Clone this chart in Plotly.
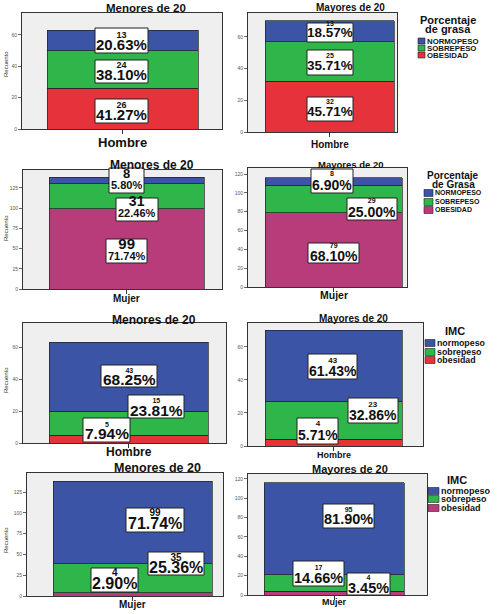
import plotly.graph_objects as go

W, H = 500, 614

# ---------------- data ----------------
grasa_categorias = ["NORMOPESO", "SOBREPESO", "OBESIDAD"]
imc_categorias = ["normopeso", "sobrepeso", "obesidad"]
grupos = ["Menores de 20", "Mayores de 20"]
sexos = ["Hombre", "Mujer"]

# order: normopeso, sobrepeso, obesidad
grasa_hombre_menores = [13, 24, 26]
grasa_hombre_mayores = [13, 25, 32]
grasa_mujer_menores = [8, 31, 99]
grasa_mujer_mayores = [8, 29, 79]
imc_hombre_menores = [43, 15, 5]
imc_hombre_mayores = [43, 23, 4]
imc_mujer_menores = [99, 35, 4]
imc_mujer_mayores = [95, 17, 4]

# ---------------- styles ----------------
BLUE = "#3b54a5"
GREEN = "#2fb64b"
RED = "#e6323a"
MAGENTA = "#b93c7a"
cols_red = [BLUE, GREEN, RED]
cols_mag = [BLUE, GREEN, MAGENTA]
FONT = "Liberation Sans, Arial, sans-serif"

panels = [
    (grupos[0], sexos[0], grasa_hombre_menores, cols_red),
    (grupos[1], sexos[0], grasa_hombre_mayores, cols_red),
    (grupos[0], sexos[1], grasa_mujer_menores, cols_mag),
    (grupos[1], sexos[1], grasa_mujer_mayores, cols_mag),
    (grupos[0], sexos[0], imc_hombre_menores, cols_red),
    (grupos[1], sexos[0], imc_hombre_mayores, cols_red),
    (grupos[0], sexos[1], imc_mujer_menores, cols_mag),
    (grupos[1], sexos[1], imc_mujer_mayores, cols_mag),
]

# layout geometry in pixels
frames = [(22, 222, 13, 129), (248, 397, 13, 132),
          (23, 222, 170, 289), (248, 407, 168, 287),
          (23, 226, 323, 443), (248, 423, 323, 446),
          (27, 223, 473, 596), (248, 427, 474, 595)]
bars_px = [(47, 198), (265, 394), (49, 204), (265, 402),
           (49, 208), (265, 402), (53, 212), (264, 404)]
ymax = [74, 75, 147, 126.5, 75, 74.5, 148, 125]
dticks = [20, 20, 25, 20, 20, 20, 25, 20]
title_pos = [(146, 8, 11.5), (350, 7, 10), (152, 165, 12), (350, 164, 9.5),
             (154, 320, 12), (353, 318, 10), (157, 468, 12.5), (350, 469, 11)]
xlab_pos = [(142, 13), (144, 10), (298, 10), (295, 10.5), (452, 12), (455, 9), (604, 10), (602, 9)]
ytitle_pos = [(6, 64), None, (6, 228), None, (6, 380), None, (6, 540), None]

# label boxes: (x0, x1, y0, y1, count_y, pct_y, count_size, pct_size)
boxes = [
    [(95, 148, 28, 53, 37, 47, 9, 15), (95, 148, 60, 83, 67, 77, 9, 15), (95, 148, 99, 123, 107, 117, 9, 15)],
    [(307, 353, 23, 42, 26, 35, 7, 13.5), (307, 353, 50, 75, 58, 68, 7, 13.5), (307, 353, 97, 121, 104, 114, 7, 13.5)],
    [(109, 144, 168, 193, 175, 187, 13, 11), (116, 158, 198, 221, 203, 215, 14, 11), (106, 147, 239, 263, 246, 258, 15, 11)],
    [(311, 353, 169, 193, 176, 187, 7, 14), (347, 397, 198, 220, 203, 214, 7, 14), (308, 359, 243, 263, 248, 258, 7, 14)],
    [(101, 157, 365, 387, 373, 382, 7, 15.5), (128, 184, 395, 418, 403, 413, 7, 15.5), (83, 130, 418, 442, 427, 436, 7, 15.5)],
    [(308, 357, 354, 379, 362, 373, 8, 14), (348, 398, 398, 423, 406, 417, 8, 14), (297, 338, 418, 444, 425, 437, 8, 14)],
    [(126, 184, 508, 532, 514, 525, 10, 16), (148, 204, 552, 575, 559, 569, 10, 16), (91, 138, 568, 592, 574, 585, 10, 16)],
    [(323, 374, 504, 528, 512, 521, 7, 14.5), (293, 344, 561, 586, 570, 580, 7, 14.5), (347, 390, 573, 595, 580, 590, 7, 14.5)],
]

# legends: (title lines, title_x, title_ys, title_size, sq_x0, sq_x1, sq_h, text_x, row_ys, text_size, categories, colors)
legends = [
    (["Porcentaje", "de grasa"], 448, [20, 29], 11, 418, 425, 6, 426, [41, 48, 55], 7.8, grasa_categorias, cols_red),
    (["Porcentaje", "de Grasa"], 453, [175, 184], 10, 424, 433, 7, 434, [193, 202, 210], 7, grasa_categorias, cols_mag),
    (["IMC"], 455, [331], 11, 425, 435, 7, 436, [343, 352, 360], 8.8, imc_categorias, cols_red),
    (["IMC"], 457, [480], 11, 428, 439, 7, 440, [491, 499, 508], 9, imc_categorias, cols_mag),
]

ASC, DESC, CAPMID = 0.905, 0.212, 0.36
LABEL_SHIFT = -2.2


def px(x):
    return x / W


def py(y):
    return 1 - y / H


fig = go.Figure()
layout = dict(width=W, height=H, margin=dict(l=0, r=0, t=0, b=0, autoexpand=False),
              paper_bgcolor="white", plot_bgcolor="#efefef", barmode="stack",
              showlegend=False, font=dict(family=FONT, color="#111"), template="none")
annotations = []
shapes = []

for i, (titulo, cat, vals, cols) in enumerate(panels):
    ax = "" if i == 0 else str(i + 1)
    fx0, fx1, fy0, fy1 = frames[i]
    bx0, bx1 = bars_px[i]
    ppu = bx1 - bx0
    bc = (bx0 + bx1) / 2
    xr = [(fx0 - bc) / ppu, (fx1 - bc) / ppu]
    for k in [2, 1, 0]:
        fig.add_trace(go.Bar(x=[0], y=[vals[k]], width=1,
                             marker=dict(color=cols[k], line=dict(color="#222", width=0.7)),
                             xaxis="x" + ax, yaxis="y" + ax, showlegend=False, hoverinfo="skip"))
    layout["xaxis" + ax] = dict(domain=[px(fx0), px(fx1)], range=xr, anchor="y" + ax,
                                automargin=False, tickvals=[0], showticklabels=False,
                                ticks="outside", ticklen=4, tickcolor="#333",
                                showline=True, mirror=True, linecolor="#333", linewidth=1,
                                showgrid=False, zeroline=False, fixedrange=True)
    layout["yaxis" + ax] = dict(domain=[py(fy1), py(fy0)], range=[0, ymax[i]], anchor="x" + ax,
                                automargin=False,
                                tick0=0, dtick=dticks[i], ticks="outside", ticklen=3,
                                tickcolor="#666", tickfont=dict(size=5, color="#555", family=FONT),
                                showline=True, mirror=True, linecolor="#333", linewidth=1,
                                showgrid=False, zeroline=False, fixedrange=True)
    # category label under the bar
    ly, ls = xlab_pos[i]
    annotations.append(dict(x=px(bc), y=py(ly), xref="paper", yref="paper", text=f"<b>{cat}</b>",
                            showarrow=False, xanchor="center", yanchor="middle", borderpad=0,
                            font=dict(size=ls, color="#111", family=FONT)))
    tx, ty, ts = title_pos[i]
    annotations.append(dict(x=px(tx), y=py(ty), xref="paper", yref="paper", text=f"<b>{titulo}</b>",
                            showarrow=False, xanchor="center", yanchor="middle", borderpad=0,
                            font=dict(size=ts, color="#111", family=FONT)))
    if ytitle_pos[i]:
        yx, yy = ytitle_pos[i]
        annotations.append(dict(x=px(yx), y=py(yy), xref="paper", yref="paper", text="Recuento",
                                textangle=-90, showarrow=False, xanchor="center", yanchor="middle",
                                font=dict(size=6, color="#333", family=FONT)))
    total = sum(vals)
    for k in range(3):
        x0, x1, y0, y1, cy, pcy, cs, ps = boxes[i][k]
        shapes.append(dict(type="rect", xref="paper", yref="paper", x0=px(x0), x1=px(x1),
                           y0=py(y1), y1=py(y0), fillcolor="white",
                           line=dict(color="#222", width=1), layer="above"))
        cx = (x0 + x1) / 2
        cb = cy + CAPMID * cs          # baseline of count line
        pb = pcy + CAPMID * ps         # baseline of percent line
        base = (pb - cb) / 1.3
        top = cb - ASC * cs
        hgt = ASC * cs + (pb - cb) + DESC * ps
        yc = top + hgt / 2 + LABEL_SHIFT
        txt = (f"<span style='font-size:{cs}px'><b>{vals[k]}</b></span><br>"
               f"<span style='font-size:{ps}px'><b>{vals[k] / total * 100:.2f}%</b></span>")
        annotations.append(dict(x=px(cx), y=py(yc), xref="paper", yref="paper",
                                text=txt, showarrow=False, xanchor="center", yanchor="middle",
                                borderpad=0, borderwidth=0,
                                font=dict(size=base, color="#111", family=FONT)))

for (tl, tx, tys, tsz, sx0, sx1, sh, txx, rys, tsz2, cats, cols) in legends:
    for line, yy in zip(tl, tys):
        annotations.append(dict(x=px(tx), y=py(yy), xref="paper", yref="paper", text=f"<b>{line}</b>",
                                showarrow=False, xanchor="center", yanchor="middle", borderpad=0,
                                font=dict(size=tsz, color="#111", family=FONT)))
    for c, col, yy in zip(cats, cols, rys):
        shapes.append(dict(type="rect", xref="paper", yref="paper", x0=px(sx0), x1=px(sx1),
                           y0=py(yy + sh / 2), y1=py(yy - sh / 2), fillcolor=col,
                           line=dict(color="#222", width=0.6)))
        annotations.append(dict(x=px(txx), y=py(yy), xref="paper", yref="paper", text=f"<b>{c}</b>",
                                showarrow=False, xanchor="left", yanchor="middle", borderpad=0,
                                font=dict(size=tsz2, color="#111", family=FONT)))

layout["annotations"] = annotations
layout["shapes"] = shapes
fig.update_layout(**layout)
fig.write_html("out.html", config={"displayModeBar": False},
               post_script="document.body.style.margin='0px';document.body.style.overflow='hidden';")
